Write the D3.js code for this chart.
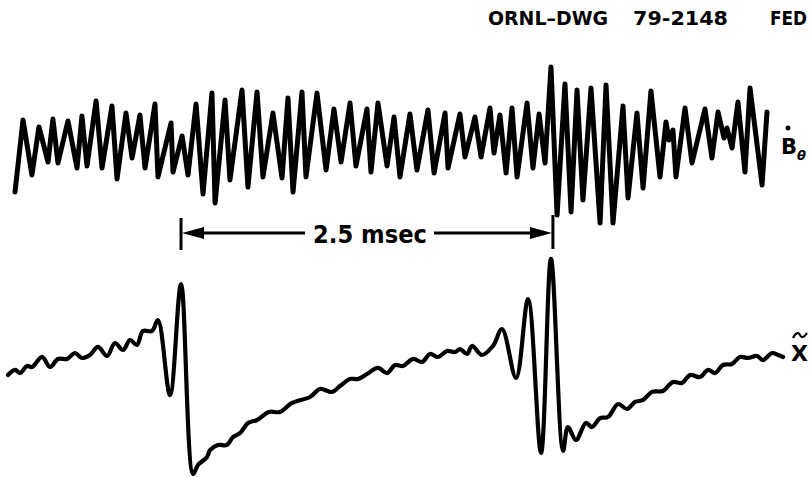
<!DOCTYPE html>
<html>
<head>
<meta charset="utf-8">
<script src="https://cdn.jsdelivr.net/npm/d3@7"></script>
<style>
  html, body { margin: 0; padding: 0; background: #fff; }
  svg { display: block; }
  text { font-family: "DejaVu Sans", sans-serif; fill: #000; }
</style>
</head>
<body>
<svg></svg>
<script>
const width = 812;
const height = 477;

// time (msec) and amplitude (arb. units) of the Bdot trace vertices
const bTime = [0.047, 0.101, 0.161, 0.208, 0.269, 0.302, 0.336, 0.403, 0.464, 0.497,
  0.531, 0.592, 0.632, 0.699, 0.733, 0.793, 0.834, 0.887, 0.921, 0.988,
  1.008, 1.096, 1.109, 1.170, 1.210, 1.264, 1.311, 1.371, 1.392, 1.459,
  1.492, 1.573, 1.613, 1.674, 1.714, 1.781, 1.842, 1.882, 1.916, 1.976,
  2.003, 2.077, 2.138, 2.191, 2.239, 2.299, 2.339, 2.413, 2.440, 2.487,
  2.548, 2.595, 2.635, 2.702, 2.749, 2.823, 2.864, 2.938, 2.958, 3.038,
  3.072, 3.139, 3.180, 3.240, 3.267, 3.307, 3.348, 3.388, 3.422, 3.489,
  3.529, 3.570, 3.610, 3.650, 3.691, 3.744, 3.785, 3.825, 3.865, 3.919,
  3.980, 4.020, 4.067, 4.134, 4.168, 4.228, 4.269, 4.322, 4.383, 4.423,
  4.443, 4.470, 4.490, 4.551, 4.598, 4.685, 4.732, 4.773, 4.813, 4.833,
  4.867, 4.907, 4.954, 4.988, 5.069, 5.102];
const bValue = [-0.553, 0.294, -0.353, 0.212, -0.200, 0.306, -0.212, 0.282, -0.271, 0.341,
  -0.247, 0.518, -0.271, 0.459, -0.400, 0.376, -0.153, 0.353, -0.271, 0.482,
  -0.376, 0.259, -0.318, 0.106, -0.353, 0.482, -0.576, 0.612, -0.682, 0.529,
  -0.412, 0.647, -0.494, 0.624, -0.376, 0.376, -0.388, 0.553, -0.553, 0.624,
  -0.376, 0.612, -0.294, 0.424, -0.200, 0.494, -0.247, 0.424, -0.318, 0.494,
  -0.247, 0.329, -0.376, 0.365, -0.294, 0.412, -0.329, 0.376, -0.271, 0.365,
  -0.141, 0.329, -0.141, 0.435, -0.094, 0.353, -0.329, 0.435, -0.376, 0.494,
  -0.271, 0.365, -0.212, 0.918, -0.824, 0.718, -0.788, 0.647, -0.647, 0.671,
  -0.918, 0.706, -0.918, 0.459, -0.624, 0.376, -0.506, 0.635, -0.376, 0.271,
  0.059, 0.176, -0.376, 0.435, -0.212, 0.424, -0.153, 0.388, 0.082, 0.200,
  -0.035, 0.506, -0.318, 0.671, -0.471, 0.388];

// time (msec) and amplitude of the X-tilde trace vertices
const xTime = [0.000, 0.047, 0.081, 0.128, 0.161, 0.229, 0.282, 0.336, 0.397, 0.450,
  0.497, 0.551, 0.605, 0.666, 0.719, 0.773, 0.820, 0.867, 0.907, 0.968,
  1.008, 1.089, 1.163, 1.244, 1.277, 1.338, 1.358, 1.412, 1.472, 1.512,
  1.560, 1.613, 1.674, 1.754, 1.828, 1.909, 2.030, 2.097, 2.178, 2.232,
  2.299, 2.353, 2.413, 2.487, 2.548, 2.602, 2.655, 2.723, 2.783, 2.837,
  2.891, 2.951, 3.005, 3.038, 3.086, 3.119, 3.186, 3.260, 3.321, 3.415,
  3.496, 3.583, 3.650, 3.731, 3.764, 3.818, 3.885, 3.926, 3.980, 4.033,
  4.101, 4.161, 4.215, 4.269, 4.329, 4.403, 4.470, 4.531, 4.585, 4.652,
  4.706, 4.753, 4.806, 4.867, 4.921, 4.974, 5.035, 5.075, 5.136, 5.176,
  5.210];
const xValue = [-0.091, -0.045, -0.073, -0.009, -0.018, 0.073, -0.018, 0.055, 0.055, 0.109,
  0.064, 0.091, 0.164, 0.082, 0.200, 0.136, 0.227, 0.182, 0.309, 0.309,
  0.409, -0.273, 0.736, -0.991, -0.909, -0.836, -0.773, -0.727, -0.727, -0.655,
  -0.618, -0.527, -0.500, -0.427, -0.427, -0.345, -0.291, -0.218, -0.245, -0.191,
  -0.127, -0.127, -0.082, -0.027, -0.073, 0.000, -0.009, 0.055, 0.027, 0.100,
  0.073, 0.127, 0.118, 0.145, 0.100, 0.173, 0.091, 0.173, 0.327, -0.118,
  0.600, -0.800, 0.964, -0.782, -0.564, -0.682, -0.527, -0.564, -0.482, -0.473,
  -0.355, -0.400, -0.336, -0.318, -0.245, -0.236, -0.155, -0.164, -0.091, -0.109,
  -0.045, -0.073, 0.000, 0.009, 0.073, 0.064, 0.082, 0.045, 0.109, 0.091,
  0.073];

// time markers of the 2.5 msec interval
const spanMarks = [1.163, 3.663];
const spanLabel = "2.5 msec";

const svg = d3.select("svg")
  .attr("width", width)
  .attr("height", height);

// Scales
const x = d3.scaleLinear().domain([0, 5.25]).range([8, 789]);
const yB = d3.scaleLinear().domain([-1, 1]).range([230, 60]);
const yX = d3.scaleLinear().domain([-1, 1]).range([475, 255]);

const bData = bTime.map((t, i) => ({ t, v: bValue[i] }));
const xData = xTime.map((t, i) => ({ t, v: xValue[i] }));

// Bdot trace
const lineB = d3.line()
  .x(d => x(d.t))
  .y(d => yB(d.v));

svg.append("path")
  .datum(bData)
  .attr("d", lineB)
  .attr("fill", "none")
  .attr("stroke", "#000")
  .attr("stroke-width", 5)
  .attr("stroke-linejoin", "round")
  .attr("stroke-linecap", "round");

// X-tilde trace
const lineX = d3.line()
  .x(d => x(d.t))
  .y(d => yX(d.v))
  .curve(d3.curveCatmullRom.alpha(0.5));

svg.append("path")
  .datum(xData)
  .attr("d", lineX)
  .attr("fill", "none")
  .attr("stroke", "#000")
  .attr("stroke-width", 4.2)
  .attr("stroke-linejoin", "round")
  .attr("stroke-linecap", "round");

// Interval bracket
const x0 = x(spanMarks[0]);
const x1 = x(spanMarks[1]);
const yArrow = 233;
const bracket = svg.append("g").attr("stroke", "#000").attr("stroke-width", 3);

bracket.append("line").attr("x1", x0).attr("x2", x0).attr("y1", 218).attr("y2", 250);
bracket.append("line").attr("x1", x1).attr("x2", x1).attr("y1", 215).attr("y2", 249);
bracket.append("line").attr("x1", x0 + 10).attr("x2", 305).attr("y1", yArrow).attr("y2", yArrow);
bracket.append("line").attr("x1", 434).attr("x2", x1 - 10).attr("y1", yArrow).attr("y2", yArrow);

svg.append("path")
  .attr("d", `M${x0 + 1},${yArrow} L${x0 + 23},${yArrow - 6} L${x0 + 23},${yArrow + 6} Z`)
  .attr("fill", "#000");
svg.append("path")
  .attr("d", `M${x1 - 1},${yArrow} L${x1 - 23},${yArrow - 6} L${x1 - 23},${yArrow + 6} Z`)
  .attr("fill", "#000");

svg.append("text")
  .attr("x", 313)
  .attr("y", 243)
  .attr("font-size", 24)
  .attr("font-weight", "bold")
  .attr("textLength", 114)
  .attr("lengthAdjust", "spacingAndGlyphs")
  .text(spanLabel);

// Drawing number header
const header = [
  { s: "ORNL–DWG", x: 488, w: 120 },
  { s: "79-2148", x: 633, w: 95 },
  { s: "FED", x: 770, w: 37 }
];
svg.selectAll("text.hdr")
  .data(header)
  .join("text")
  .attr("class", "hdr")
  .attr("x", d => d.x)
  .attr("y", 25)
  .attr("font-size", 19)
  .attr("font-weight", "bold")
  .attr("textLength", d => d.w)
  .attr("lengthAdjust", "spacingAndGlyphs")
  .text(d => d.s);

// Trace labels
svg.append("text")
  .attr("x", 781)
  .attr("y", 154)
  .attr("font-size", 21)
  .attr("font-weight", "bold")
  .text("B");
svg.append("circle").attr("cx", 788).attr("cy", 128).attr("r", 2.5).attr("fill", "#000");
svg.append("text")
  .attr("x", 797)
  .attr("y", 160)
  .attr("font-size", 13)
  .attr("font-style", "italic")
  .attr("font-weight", "bold")
  .text("θ");

svg.append("text")
  .attr("x", 791)
  .attr("y", 361)
  .attr("font-size", 22)
  .attr("font-weight", "bold")
  .text("X");
svg.append("path")
  .attr("d", "M793,338 C796,332 799,332 800,335 C801,338 804,338 807,333")
  .attr("fill", "none")
  .attr("stroke", "#000")
  .attr("stroke-width", 2.2);
</script>
</body>
</html>
